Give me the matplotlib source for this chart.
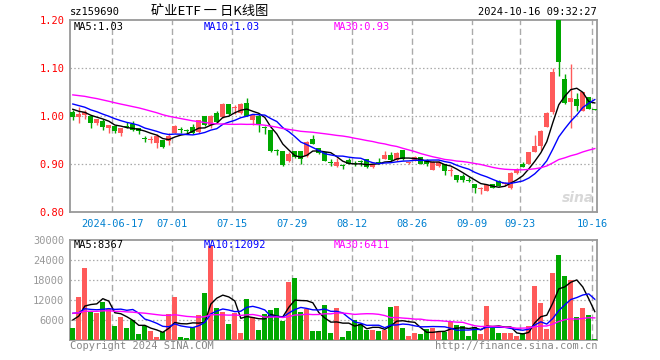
import numpy as np
import pandas as pd
import matplotlib
matplotlib.use("Agg")
import matplotlib.pyplot as plt

W, H = 660, 360

# daily K line, 2024-06-05 .. 2024-10-16
opens = [1.009, 0.997, 1.002, 0.999, 0.985, 0.990, 0.975, 0.980, 0.965, 0.978,
         0.983, 0.974, 0.953, 0.950, 0.944, 0.950, 0.947, 0.965, 0.972, 0.970,
         0.977, 0.967, 1.000, 0.981, 1.007, 0.997, 1.025, 1.016, 1.007, 1.027,
         0.992, 1.001, 0.975, 0.971, 0.928, 0.927, 0.906, 0.927, 0.927, 0.917,
         0.952, 0.933, 0.926, 0.903, 0.896, 0.896, 0.908, 0.901, 0.905, 0.910,
         0.894, 0.904, 0.910, 0.919, 0.908, 0.929, 0.902, 0.908, 0.915, 0.909,
         0.888, 0.895, 0.900, 0.885, 0.878, 0.876, 0.866, 0.859, 0.847, 0.843,
         0.859, 0.864, 0.858, 0.850, 0.881, 0.901, 0.900, 0.926, 0.938, 0.978,
         1.008, 1.215, 1.078, 1.029, 1.036, 1.010, 1.040, 1.014]
highs = [1.013, 1.018, 1.012, 0.999, 0.994, 0.993, 0.981, 0.980, 0.974, 0.988,
         0.990, 0.974, 0.958, 0.958, 0.962, 0.950, 0.964, 0.981, 0.978, 0.973,
         0.983, 0.992, 1.000, 1.002, 1.011, 1.027, 1.025, 1.023, 1.027, 1.038,
         1.002, 1.004, 0.979, 0.971, 0.932, 0.927, 0.924, 0.927, 0.927, 0.947,
         0.960, 0.933, 0.926, 0.910, 0.913, 0.900, 0.912, 0.906, 0.908, 0.911,
         0.901, 0.913, 0.927, 0.924, 0.926, 0.929, 0.904, 0.916, 0.915, 0.910,
         0.906, 0.906, 0.901, 0.893, 0.878, 0.879, 0.872, 0.859, 0.853, 0.857,
         0.859, 0.867, 0.862, 0.883, 0.892, 0.904, 0.926, 0.961, 0.970, 1.008,
         1.100, 1.230, 1.088, 1.109, 1.047, 1.051, 1.040, 1.014]
lows = [0.992, 0.986, 0.994, 0.975, 0.981, 0.971, 0.965, 0.965, 0.959, 0.974,
        0.969, 0.962, 0.946, 0.944, 0.934, 0.933, 0.940, 0.964, 0.964, 0.962,
        0.962, 0.965, 0.979, 0.975, 0.987, 0.995, 1.002, 1.005, 1.005, 0.999,
        0.981, 0.967, 0.962, 0.925, 0.919, 0.896, 0.904, 0.912, 0.901, 0.915,
        0.942, 0.921, 0.906, 0.896, 0.894, 0.889, 0.899, 0.896, 0.896, 0.892,
        0.891, 0.900, 0.910, 0.906, 0.907, 0.909, 0.900, 0.907, 0.899, 0.895,
        0.887, 0.893, 0.878, 0.876, 0.863, 0.862, 0.862, 0.840, 0.838, 0.843,
        0.850, 0.854, 0.855, 0.847, 0.880, 0.893, 0.899, 0.924, 0.930, 0.977,
        1.005, 1.084, 1.025, 0.976, 1.011, 1.010, 1.015, 1.013]
closes = [0.997, 1.004, 1.009, 0.985, 0.993, 0.978, 0.981, 0.969, 0.974, 0.977,
          0.971, 0.969, 0.952, 0.951, 0.958, 0.935, 0.958, 0.979, 0.971, 0.969,
          0.964, 0.991, 0.981, 1.000, 0.988, 1.025, 1.004, 1.017, 1.026, 1.000,
          1.002, 0.983, 0.974, 0.927, 0.927, 0.897, 0.921, 0.915, 0.911, 0.946,
          0.942, 0.922, 0.906, 0.902, 0.904, 0.895, 0.899, 0.900, 0.904, 0.894,
          0.901, 0.903, 0.919, 0.908, 0.922, 0.910, 0.903, 0.914, 0.900, 0.899,
          0.904, 0.904, 0.886, 0.886, 0.867, 0.867, 0.865, 0.849, 0.848, 0.856,
          0.851, 0.854, 0.859, 0.881, 0.890, 0.894, 0.925, 0.938, 0.969, 1.006,
          1.092, 1.112, 1.027, 1.038, 1.020, 1.050, 1.015, 1.013]
volumes = [3500, 12900, 21500, 8300, 8000, 11300, 9200, 4100, 6800, 3500,
           5900, 1700, 4100, 2600, 800, 2300, 7800, 12800, 800, 500,
           3800, 7400, 14000, 28100, 9500, 8300, 4700, 8000, 2000, 12200,
           6800, 2900, 7700, 8900, 9500, 5600, 17300, 18500, 8300, 9200,
           2600, 2600, 10400, 2000, 9500, 800, 2600, 5900, 4700, 2900,
           2900, 2600, 2900, 9800, 10100, 3500, 1100, 2000, 1700, 3200,
           3500, 2300, 2300, 5300, 4400, 4100, 1100, 3800, 1700, 10100,
           3500, 2000, 2000, 2000, 1100, 2000, 4300, 16300, 11200, 3400,
           20200, 25600, 19300, 18100, 6900, 9700, 7600, 300]

# days before the window, only needed so the moving averages start at the left edge
prior_closes = [1.050, 1.055, 1.060, 1.058, 1.062, 1.065, 1.060, 1.058, 1.055, 1.052,
                1.048, 1.050, 1.055, 1.060, 1.058, 1.054, 1.050, 1.045, 1.040, 1.035,
                1.038, 1.042, 1.040, 1.032, 1.028, 1.025, 1.020, 1.015, 1.013]
prior_volumes = [8000, 7500, 9000, 8500, 7000, 8000, 9500, 7500, 8000, 8500,
                 7000, 8000, 9000, 7500, 8500, 8000, 7000, 8500, 8000, 7500,
                 11000, 9500, 10500, 9000, 10000, 7000, 6500, 6000, 7000]

tick_idx = [7, 17, 27, 37, 47, 57, 67, 75, 87]
tick_labels = ["2024-06-17", "07-01", "07-15", "07-29", "08-12",
               "08-26", "09-09", "09-23", "10-16"]
price_ticks = [0.80, 0.90, 1.00, 1.10, 1.20]
vol_ticks = [6000, 12000, 18000, 24000, 30000]

RED = "#ff5a5a"
GREEN = "#00a800"
GRID = "#aaaaaa"
MONO = "DejaVu Sans Mono"

n = len(closes)
x = np.arange(n)
o = np.array(opens)
c = np.array(closes)
up = c >= o
colors = np.where(up, RED, GREEN)

c_all = pd.Series(prior_closes + closes)
v_all = pd.Series(prior_volumes + volumes)
ma = {k: c_all.rolling(k).mean().values[-n:] for k in (5, 10, 30)}
vma = {k: v_all.rolling(k).mean().values[-n:] for k in (5, 10, 30)}
ma_colors = {5: "black", 10: "#0000ff", 30: "#ff00ff"}

fig = plt.figure(figsize=(W / 100, H / 100), dpi=100)
fig.patch.set_facecolor("white")

ax1 = fig.add_axes([70 / W, 1 - 212 / H, 527 / W, 192 / H])
ax2 = fig.add_axes([70 / W, 1 - 340 / H, 527 / W, 100 / H])

xlim = (-0.47, n - 1 + 0.37)
grid_x = np.array(tick_idx) - 0.42

# candles
body_bottom = np.minimum(o, c)
body_h = np.maximum(np.abs(c - o), 0.0022)
ax1.vlines(x, lows, highs, colors=colors, linewidth=1, zorder=3)
ax1.bar(x, body_h, bottom=body_bottom, width=0.8, color=colors, linewidth=0, zorder=4)
for k in (5, 10, 30):
    ax1.plot(x, ma[k], color=ma_colors[k], linewidth=1, zorder=5)

ax1.set_xlim(*xlim)
ax1.set_ylim(0.80, 1.20)
ax1.set_yticks(price_ticks)
ax1.set_yticklabels(["%.2f" % p for p in price_ticks], color="red",
                    fontsize=7.5, family=MONO)
ax1.set_xticks(grid_x)
ax1.set_xticklabels(tick_labels, color="#0080d0", fontsize=7.5, family=MONO)
ax1.tick_params(length=0, pad=4)
ax1.tick_params(axis="x", pad=5)
for yv in price_ticks[1:-1]:
    ax1.axhline(yv, color=GRID, linewidth=0.9, linestyle=(0, (1.2, 1.8)), zorder=1)
for xv in grid_x:
    ax1.axvline(xv, color=GRID, linewidth=1, linestyle=(0, (4.5, 2.6)), zorder=1)

# volume
ax2.bar(x, volumes, width=0.8, color=colors, linewidth=0, zorder=3)
for k in (5, 10, 30):
    ax2.plot(x, vma[k], color=ma_colors[k], linewidth=1, zorder=5)
ax2.set_xlim(*xlim)
ax2.set_ylim(0, 30000)
ax2.set_yticks(vol_ticks)
ax2.set_yticklabels([str(v) for v in vol_ticks], color="#999999",
                    fontsize=7.5, family=MONO)
ax2.set_xticks(grid_x)
ax2.set_xticklabels([])
ax2.tick_params(length=0, pad=4)
for yv in vol_ticks[:-1]:
    ax2.axhline(yv, color=GRID, linewidth=0.9, linestyle=(0, (1.2, 1.8)), zorder=1)
for xv in grid_x:
    ax2.axvline(xv, color=GRID, linewidth=1, linestyle=(0, (4.5, 2.6)), zorder=1)

for ax in (ax1, ax2):
    for s in ax.spines.values():
        s.set_color("#999999")
        s.set_linewidth(1.3)


def px(xp, yp):
    return xp / W, 1 - yp / H


# header
fig.text(*px(70, 12), "sz159690", fontsize=7.5, family=MONO, va="center")
fig.text(*px(210, 12), "矿业ETF 一 日K线图", fontsize=9.5,
         family=["Noto Sans CJK SC", "DejaVu Sans"], va="center", ha="center")
fig.text(*px(597, 12), "2024-10-16 09:32:27", fontsize=7.5, family=MONO,
         va="center", ha="right")

fig.text(*px(74, 26.5), "MA5:%.2f" % ma[5][-1], color="black", fontsize=7.5,
         family=MONO, va="center")
fig.text(*px(204, 26.5), "MA10:%.2f" % ma[10][-1], color="#0000ff", fontsize=7.5,
         family=MONO, va="center")
fig.text(*px(334, 26.5), "MA30:%.2f" % ma[30][-1], color="#ff00ff", fontsize=7.5,
         family=MONO, va="center")

fig.text(*px(74, 245.5), "MA5:8367", color="black", fontsize=7.5,
         family=MONO, va="center")
fig.text(*px(204, 245.5), "MA10:12092", color="#0000ff", fontsize=7.5,
         family=MONO, va="center")
fig.text(*px(334, 245.5), "MA30:6411", color="#ff00ff", fontsize=7.5,
         family=MONO, va="center")

fig.text(*px(70, 346), "Copyright 2024 SINA.COM", color="#888888", fontsize=7.5,
         family=MONO, va="center")
fig.text(*px(597, 346), "http://finance.sina.com.cn", color="#888888", fontsize=7.5,
         family=MONO, va="center", ha="right")

# watermark
fig.text(*px(578, 198), "sina", color="#d8d8d8", fontsize=10, fontweight="bold",
         style="italic", va="center", ha="center", zorder=0)

fig.savefig("out.png", dpi=100)
